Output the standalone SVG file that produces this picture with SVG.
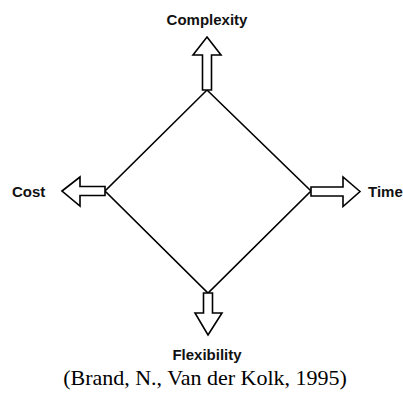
<svg xmlns="http://www.w3.org/2000/svg" width="403" height="394" viewBox="0 0 403 394">
<defs>
<style>
.lbl{font-family:"Liberation Sans",Arial,sans-serif;font-weight:bold;font-size:15px;fill:#111}
.arr{fill:#fff;stroke:#000;stroke-width:1.6;stroke-linejoin:miter}
.edge{fill:none;stroke:#000;stroke-width:1.6}
.cap{font-family:"Liberation Serif","Times New Roman",serif;font-size:22px;fill:#000}
</style>
</defs>
<rect width="403" height="394" fill="#fff"/>
<g id="connectors">
<polygon class="edge" points="207,90 311,191 208,293 105,191"/>
</g>
<g id="complexity">
<polygon class="arr" points="207,37 221,55 211.5,55 211.5,90 202.5,90 202.5,55 193,55"/>
<text class="lbl" x="207" y="25" text-anchor="middle">Complexity</text>
</g>
<g id="cost">
<polygon class="arr" points="62,191 80,177 80,186.5 105,186.5 105,195.5 80,195.5 80,206"/>
<text class="lbl" x="12" y="197">Cost</text>
</g>
<g id="time">
<polygon class="arr" points="360,191.5 343,177 343,187 311,187 311,196 343,196 343,206.5"/>
<text class="lbl" x="368" y="197">Time</text>
</g>
<g id="flexibility">
<polygon class="arr" points="208,335 222,313 212.5,313 212.5,293 203.5,293 203.5,313 195,313"/>
<text class="lbl" x="207" y="360" text-anchor="middle">Flexibility</text>
</g>
<text class="cap" x="205" y="385" text-anchor="middle">(Brand, N., Van der Kolk, 1995)</text>
</svg>
